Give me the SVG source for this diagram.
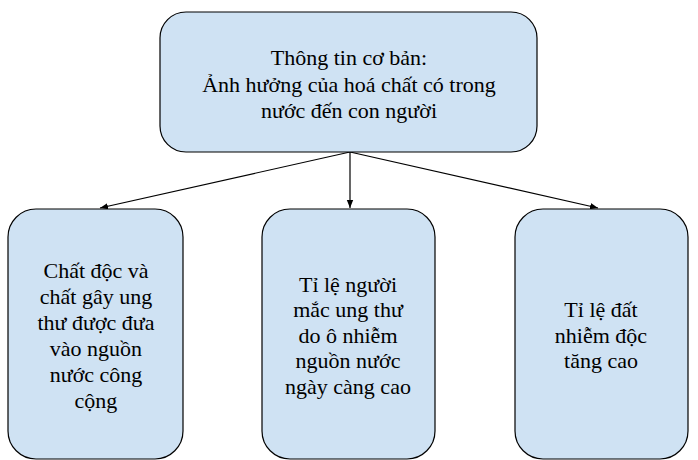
<svg xmlns="http://www.w3.org/2000/svg" width="698" height="460" viewBox="0 0 698 460">
<style>
.box{fill:#cfe2f3;stroke:#000;stroke-width:1.2}
.t{font-family:"Liberation Serif","Times New Roman",serif;font-size:22px;fill:#000;text-anchor:middle}
.c{stroke:#000;stroke-width:1.2;fill:none;marker-end:url(#ah)}
</style>
<defs>
<marker id="ah" viewBox="0 0 10 10" refX="10" refY="5" markerWidth="8" markerHeight="8" markerUnits="userSpaceOnUse" orient="auto">
<path d="M0,1 L10,5 L0,9 z" fill="#000"/>
</marker>
</defs>
<rect width="698" height="460" fill="#fff"/>
<g id="connectors">
<line class="c" x1="350" y1="152" x2="100" y2="208"/>
<line class="c" x1="350" y1="152" x2="350" y2="208"/>
<line class="c" x1="350" y1="152" x2="598" y2="208"/>
</g>
<g id="top">
<rect class="box" x="160" y="12" width="377" height="140" rx="26"/>
<text class="t" x="349" y="65">Thông tin cơ bản:</text>
<text class="t" x="349" y="92">Ảnh hưởng của hoá chất có trong</text>
<text class="t" x="349" y="118">nước đến con người</text>
</g>
<g id="left">
<rect class="box" x="8" y="209" width="175" height="250" rx="28"/>
<text class="t" x="96" y="278">Chất độc và</text>
<text class="t" x="96" y="304">chất gây ung</text>
<text class="t" x="96" y="330">thư được đưa</text>
<text class="t" x="96" y="356">vào nguồn</text>
<text class="t" x="96" y="382">nước công</text>
<text class="t" x="96" y="408">cộng</text>
</g>
<g id="middle">
<rect class="box" x="262" y="209" width="173" height="250" rx="28"/>
<text class="t" x="348" y="292">Tỉ lệ người</text>
<text class="t" x="348" y="317">mắc ung thư</text>
<text class="t" x="348" y="343">do ô nhiễm</text>
<text class="t" x="348" y="368">nguồn nước</text>
<text class="t" x="348" y="394">ngày càng cao</text>
</g>
<g id="right">
<rect class="box" x="515" y="209" width="173" height="250" rx="28"/>
<text class="t" x="601" y="317">Tỉ lệ đất</text>
<text class="t" x="601" y="343">nhiễm độc</text>
<text class="t" x="601" y="368">tăng cao</text>
</g>
</svg>
